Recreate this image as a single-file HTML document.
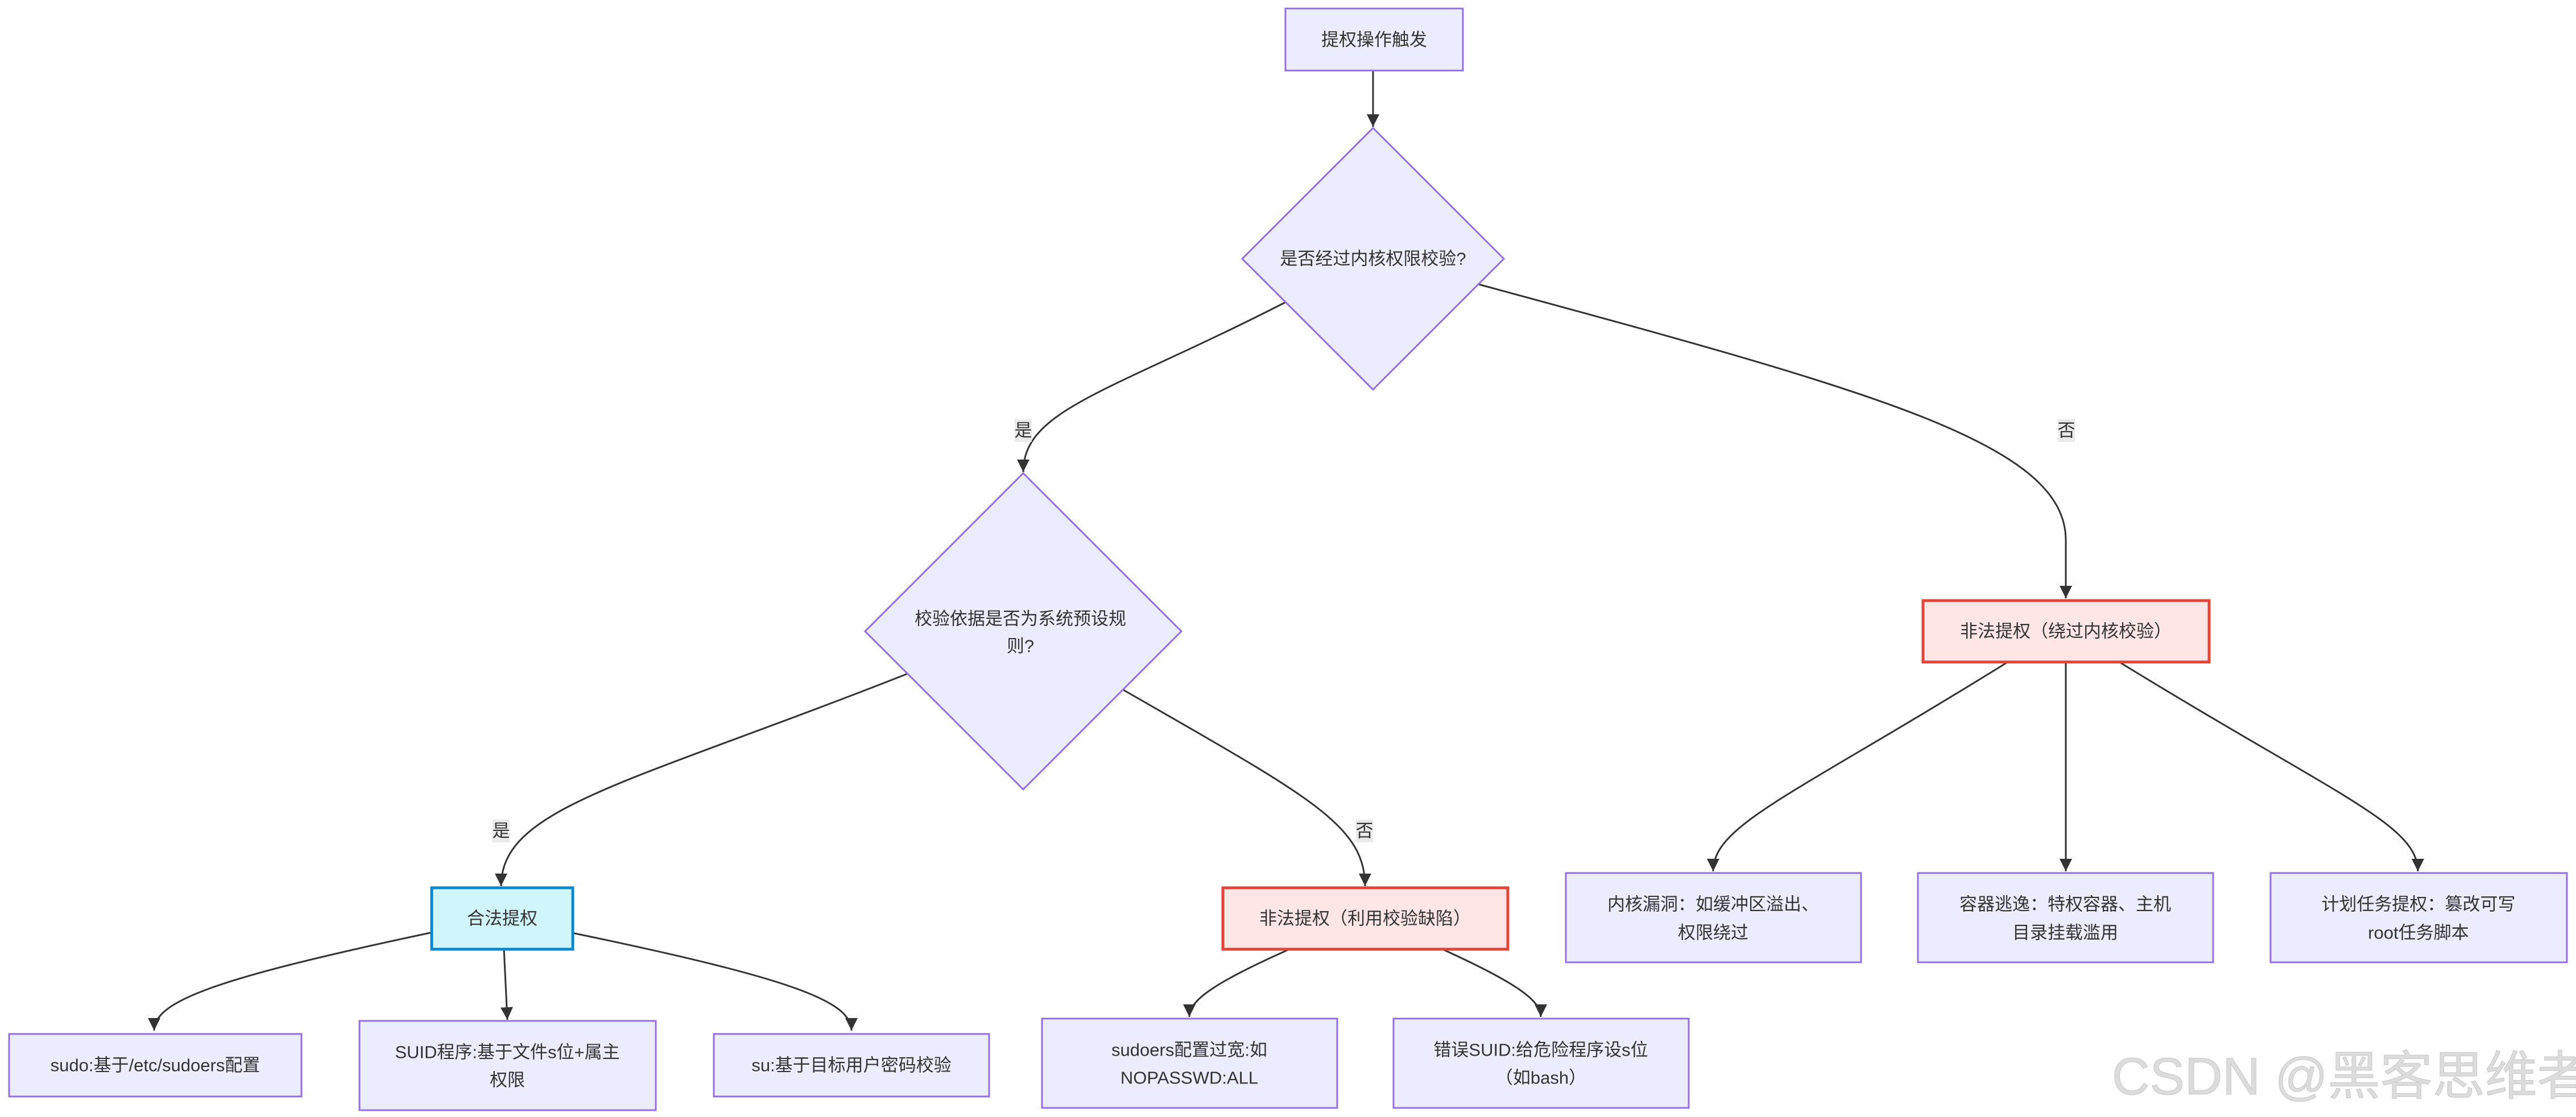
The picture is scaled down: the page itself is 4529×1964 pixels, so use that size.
<!DOCTYPE html>
<html><head><meta charset="utf-8"><style>
html,body{margin:0;padding:0;background:#fff;}
svg{display:block;}
text{font-family:"Liberation Sans","Noto Sans CJK SC",sans-serif;fill:#333;font-size:31px;text-anchor:middle;dominant-baseline:central;}
.n{fill:#ECECFF;stroke:#9370DB;stroke-width:3;}
.e{fill:none;stroke:#333;stroke-width:3;}
.lb{fill:#e8e8e8;opacity:0.9;}
</style></head><body>
<svg width="4529" height="1964" viewBox="0 0 4529 1964" xmlns="http://www.w3.org/2000/svg">
<defs><marker id="a" viewBox="0 0 10 10" refX="9" refY="5" markerWidth="9" markerHeight="9" markerUnits="userSpaceOnUse" orient="auto"><path d="M0,0 L10,5 L0,10 z" fill="#333"/></marker>
<marker id="m" viewBox="0 0 10 10" refX="10" refY="5" markerWidth="22" markerHeight="22" markerUnits="userSpaceOnUse" orient="auto"><path d="M0,0 L10,5 L0,10 z" fill="#333"/></marker></defs>

<!-- edges -->
<path class="e" marker-end="url(#m)" d="M2414,124 L2414,223"/>
<path class="e" marker-end="url(#m)" d="M2261,531 C1950,690 1799,720 1799,830"/>
<path class="e" marker-end="url(#m)" d="M2600,500 C3300,690 3632,780 3632,950 L3632,1052"/>
<path class="e" marker-end="url(#m)" d="M1597,1184 C1100,1380 881,1420 881,1558"/>
<path class="e" marker-end="url(#m)" d="M1975,1213 C2300,1400 2400,1450 2400,1558"/>
<path class="e" marker-end="url(#m)" d="M3530,1164 C3150,1400 3012,1450 3012,1532"/>
<path class="e" marker-end="url(#m)" d="M3632,1164 L3632,1532"/>
<path class="e" marker-end="url(#m)" d="M3726,1164 C4110,1400 4251,1450 4251,1532"/>
<path class="e" marker-end="url(#m)" d="M757,1640 C380,1720 271,1760 271,1812"/>
<path class="e" marker-end="url(#m)" d="M886,1669 L892,1793"/>
<path class="e" marker-end="url(#m)" d="M1005,1640 C1390,1720 1497,1760 1497,1812"/>
<path class="e" marker-end="url(#m)" d="M2267,1669 C2130,1730 2091,1760 2091,1788"/>
<path class="e" marker-end="url(#m)" d="M2536,1669 C2670,1730 2709,1760 2709,1788"/>

<!-- labels -->
<rect class="lb" x="1784" y="737" width="30" height="40"/><text x="1799" y="757">是</text>
<rect class="lb" x="3618" y="737" width="30" height="40"/><text x="3633" y="757">否</text>
<rect class="lb" x="866" y="1441" width="30" height="40"/><text x="881" y="1461">是</text>
<rect class="lb" x="2384" y="1441" width="30" height="40"/><text x="2399" y="1461">否</text>

<!-- nodes -->
<rect class="n" x="2260" y="15" width="312" height="109"/>
<text x="2416" y="70">提权操作触发</text>

<polygon class="n" points="2414,225 2644,455 2414,685 2184,455"/>
<text x="2414" y="455">是否经过内核权限校验?</text>

<polygon class="n" points="1799,832 2077,1110 1799,1388 1521,1110"/>
<text x="1794" y="1088">校验依据是否为系统预设规</text>
<text x="1794" y="1136">则?</text>

<rect x="3381" y="1056" width="503" height="108" fill="#FFE6E6" stroke="#E0453A" stroke-width="5"/>
<text x="3632" y="1110">非法提权（绕过内核校验）</text>

<rect x="759" y="1561" width="248" height="108" fill="#D0F6FB" stroke="#0A88C8" stroke-width="5"/>
<text x="883" y="1615">合法提权</text>

<rect x="2150" y="1561" width="501" height="108" fill="#FFE6E6" stroke="#E0453A" stroke-width="5"/>
<text x="2400" y="1615">非法提权（利用校验缺陷）</text>

<rect class="n" x="2753" y="1535" width="519" height="157"/>
<text x="3012" y="1590">内核漏洞：如缓冲区溢出、</text>
<text x="3012" y="1640">权限绕过</text>

<rect class="n" x="3372" y="1535" width="519" height="157"/>
<text x="3631" y="1590">容器逃逸：特权容器、主机</text>
<text x="3631" y="1640">目录挂载滥用</text>

<rect class="n" x="3992" y="1535" width="521" height="157"/>
<text x="4252" y="1590">计划任务提权：篡改可写</text>
<text x="4252" y="1640">root任务脚本</text>

<rect class="n" x="16" y="1818" width="514" height="110"/>
<text x="273" y="1873">sudo:基于/etc/sudoers配置</text>

<rect class="n" x="632" y="1795" width="521" height="157"/>
<text x="892" y="1850">SUID程序:基于文件s位+属主</text>
<text x="892" y="1899">权限</text>

<rect class="n" x="1255" y="1818" width="484" height="110"/>
<text x="1497" y="1873">su:基于目标用户密码校验</text>

<rect class="n" x="1832" y="1791" width="519" height="157"/>
<text x="2091" y="1846">sudoers配置过宽:如</text>
<text x="2091" y="1895">NOPASSWD:ALL</text>

<rect class="n" x="2450" y="1791" width="519" height="157"/>
<text x="2709" y="1846">错误SUID:给危险程序设s位</text>
<text x="2709" y="1895">（如bash）</text>

<text x="4133" y="1893" style="font-size:92px;fill:#dcdcdc;stroke:#c8c8c8;stroke-width:1;">CSDN @黑客思维者</text>
</svg>
</body></html>
